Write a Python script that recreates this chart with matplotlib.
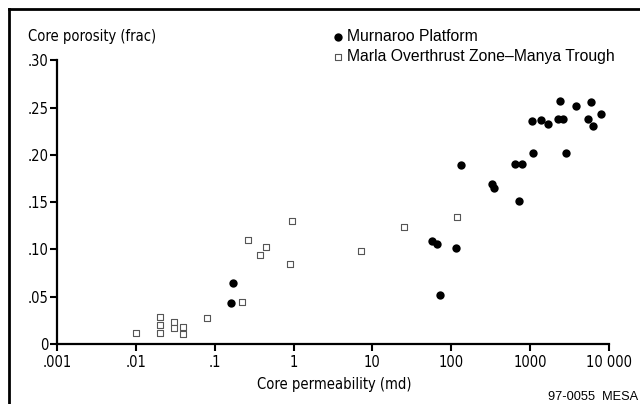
import matplotlib
matplotlib.use("Agg")
import matplotlib.pyplot as plt
from matplotlib.lines import Line2D

# Murnaroo Platform core data
murnaroo_perm = [0.16, 0.17, 57, 66, 72, 114, 134, 326, 350, 640, 730, 800,
                 1070, 1080, 1400, 1700, 2300, 2400, 2600, 2900, 3800,
                 5500, 5900, 6300, 8000]
murnaroo_poro = [0.043, 0.064, 0.109, 0.106, 0.052, 0.102, 0.189, 0.169, 0.165,
                 0.190, 0.151, 0.190, 0.236, 0.202, 0.237, 0.233, 0.238, 0.257,
                 0.238, 0.202, 0.252, 0.238, 0.256, 0.230, 0.243]

# Marla Overthrust Zone - Manya Trough core data
marla_perm = [0.01, 0.02, 0.02, 0.02, 0.03, 0.03, 0.04, 0.04, 0.08,
              0.22, 0.26, 0.37, 0.44, 0.90, 0.96, 7.1, 25, 120]
marla_poro = [0.012, 0.029, 0.020, 0.012, 0.023, 0.017, 0.018, 0.011, 0.027,
              0.044, 0.110, 0.094, 0.103, 0.085, 0.130, 0.098, 0.124, 0.134]

x_ticks = [0.001, 0.01, 0.1, 1, 10, 100, 1000, 10000]
x_tick_labels = [".001", ".01", ".1", "1", "10", "100", "1000", "10 000"]
y_ticks = [0, 0.05, 0.10, 0.15, 0.20, 0.25, 0.30]
y_tick_labels = ["0", ".05", ".10", ".15", ".20", ".25", ".30"]

# condensed face for axis text, plain sans for legend / id
narrow = dict(family="DejaVu Sans", fontstretch="condensed", fontsize=10.5)
plain = ["Liberation Sans", "DejaVu Sans"]

W, H = 640, 404
fig = plt.figure(figsize=(6.4, 4.04), dpi=100)
ax = fig.add_axes([57.3 / W, 1 - 344 / H, (608.7 - 57.3) / W, (344 - 60.3) / H])

ax.scatter(murnaroo_perm, murnaroo_poro, s=36, c="black", marker="o",
           linewidths=0, label="Murnaroo Platform", zorder=3)
ax.scatter(marla_perm, marla_poro, s=20, facecolors="white", edgecolors="#555555",
           marker="s", linewidths=0.8, label="Marla Overthrust Zone\u2013Manya Trough",
           zorder=3)

ax.set_xscale("log")
ax.set_xlim(0.001, 10000)
ax.set_ylim(0, 0.30)
ax.set_xticks(x_ticks)
ax.set_xticklabels(x_tick_labels, **narrow)
ax.set_yticks(y_ticks)
ax.set_yticklabels(y_tick_labels, **narrow)
ax.minorticks_off()

for side in ["top", "right"]:
    ax.spines[side].set_visible(False)
for side in ["left", "bottom"]:
    ax.spines[side].set_linewidth(1.6)
ax.tick_params(axis="both", direction="out", length=5, width=1.5)
ax.tick_params(axis="x", pad=3)
ax.tick_params(axis="y", pad=1.5)

fig.text(28 / W, 1 - 36.7 / H, "Core porosity (frac)", ha="left", va="center", **narrow)
fig.text(334 / W, 1 - 385 / H, "Core permeability (md)", ha="center", va="center", **narrow)
fig.text(638 / W, 1 - 396.7 / H, "97-0055  MESA", ha="right", va="center",
         fontsize=9.2, family=plain)

leg = ax.legend(loc="upper left", bbox_to_anchor=(325 / W, 1 - 21 / H),
                bbox_transform=fig.transFigure, frameon=False, borderpad=0,
                handlelength=0.6, handletextpad=0.3, labelspacing=0.36,
                prop={"family": plain, "size": 11.3})

# outer frame (top and left edges visible)
fig.add_artist(Line2D([9 / W, 9 / W], [0, 1 - 8.7 / H], transform=fig.transFigure,
                      color="black", linewidth=2))
fig.add_artist(Line2D([9 / W, 1], [1 - 8.7 / H, 1 - 8.7 / H], transform=fig.transFigure,
                      color="black", linewidth=2))

fig.savefig("out.png", dpi=100)
